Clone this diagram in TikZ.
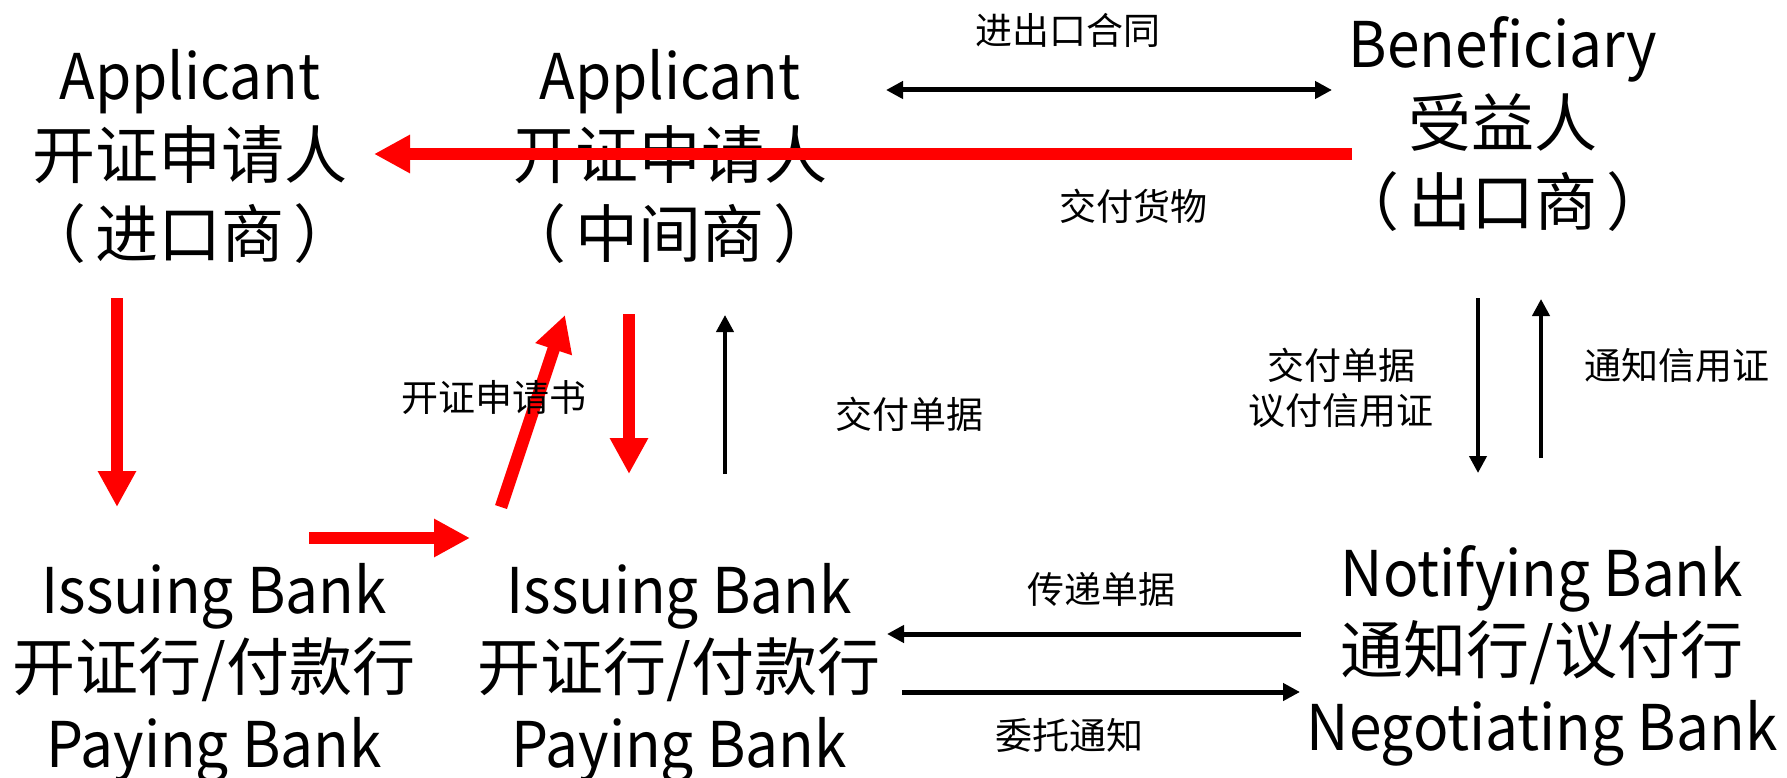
\documentclass[tikz,border=0pt]{standalone}
\usepackage{fontspec}
\usepackage{graphicx}
\setmainfont{Noto Sans CJK SC}
\usetikzlibrary{arrows.meta}
\newcommand\narrowtext[1]{\scalebox{0.93}[1]{#1}}
\newcommand\roundtext[1]{（\hspace{0.15em}#1\hspace{0.15em}）}

\begin{document}
\begin{tikzpicture}[x = 1pt, y = -1pt]
    % styles of parties, labels and arrows
    \tikzset{partystyle/.style={align=center,inner sep=0pt,font=\fontsize{63}{79}\selectfont},
      bankstyle/.style={partystyle,font=\fontsize{63}{77}\selectfont},
      labelstyle/.style={align=center,inner sep=0pt,font=\fontsize{37}{45}\selectfont},
      redstyle/.style={line width=12.5pt,color=red,-{Triangle[length=36pt,width=36pt]}},
      blackstyle/.style={line width=4pt,color=black,-{Triangle[length=17pt,width=17pt]}}}
    \useasboundingbox (0,0) rectangle (1787,778);
    % parties
    \node[partystyle] (importer)    at (190,156)  {\narrowtext{Applicant}\\开证申请人\\\roundtext{进口商}};
    \node[partystyle] (middleman)   at (670,156)  {\narrowtext{Applicant}\\开证申请人\\\roundtext{中间商}};
    \node[partystyle] (beneficiary) at (1503,124) {\narrowtext{Beneficiary}\\受益人\\\roundtext{出口商}};
    \node[bankstyle]  (issuing)     at (214,673)  {\narrowtext{Issuing Bank}\\开证行/付款行\\\narrowtext{Paying Bank}};
    \node[bankstyle]  (issuingtwo)  at (679,673)  {\narrowtext{Issuing Bank}\\开证行/付款行\\\narrowtext{Paying Bank}};
    \node[bankstyle]  (notifying)   at (1542,656) {\narrowtext{Notifying Bank}\\通知行/议付行\\\narrowtext{Negotiating Bank}};
    % arrow ends
    \coordinate (contractL) at (886,90);
    \coordinate (contractR) at (1332,90);
    \coordinate (goodsA)    at (1352,154);
    \coordinate (goodsB)    at (374,154);
    \coordinate (applyA)    at (117,298);
    \coordinate (applyB)    at (117,507);
    \coordinate (passA)     at (309,538);
    \coordinate (passB)     at (470,538);
    \coordinate (formA)     at (501,507);
    \coordinate (formB)     at (565,315);
    \coordinate (issueA)    at (629,314);
    \coordinate (issueB)    at (629,474);
    \coordinate (docsA)     at (725,474);
    \coordinate (docsB)     at (725,315);
    \coordinate (negoA)     at (1478,298);
    \coordinate (negoB)     at (1478,473);
    \coordinate (adviseA)   at (1541,458);
    \coordinate (adviseB)   at (1541,299);
    \coordinate (sendA)     at (1301,634);
    \coordinate (sendB)     at (887,634);
    \coordinate (entrustA)  at (902,692);
    \coordinate (entrustB)  at (1300,692);
    % red flow
    \draw[redstyle] (goodsA) -- (goodsB);
    \draw[redstyle] (applyA) -- (applyB);
    \draw[redstyle] (passA) -- (passB);
    \draw[redstyle] (formA) -- (formB);
    \draw[redstyle] (issueA) -- (issueB);
    % black flow
    \draw[blackstyle,line width=5pt,{Triangle[length=17pt,width=17pt]}-{Triangle[length=17pt,width=17pt]}] (contractL) -- (contractR);
    \draw[blackstyle] (docsA) -- (docsB);
    \draw[blackstyle] (negoA) -- (negoB);
    \draw[blackstyle] (adviseA) -- (adviseB);
    \draw[blackstyle,line width=5pt] (sendA) -- (sendB);
    \draw[blackstyle,line width=5pt] (entrustA) -- (entrustB);
    % labels
    \node[labelstyle] (contract) at (1068,30)  {进出口合同};
    \node[labelstyle] (goods)    at (1133,206) {交付货物};
    \node[labelstyle] (form)     at (494,398)  {开证申请书};
    \node[labelstyle] (docs)     at (909,414)  {交付单据};
    \node[labelstyle] (nego)     at (1341,388) {交付单据\\议付信用证};
    \node[labelstyle] (advise)   at (1677,366) {通知信用证};
    \node[labelstyle] (send)     at (1101,589) {传递单据};
    \node[labelstyle] (entrust)  at (1069,735) {委托通知};
\end{tikzpicture}
\end{document}
